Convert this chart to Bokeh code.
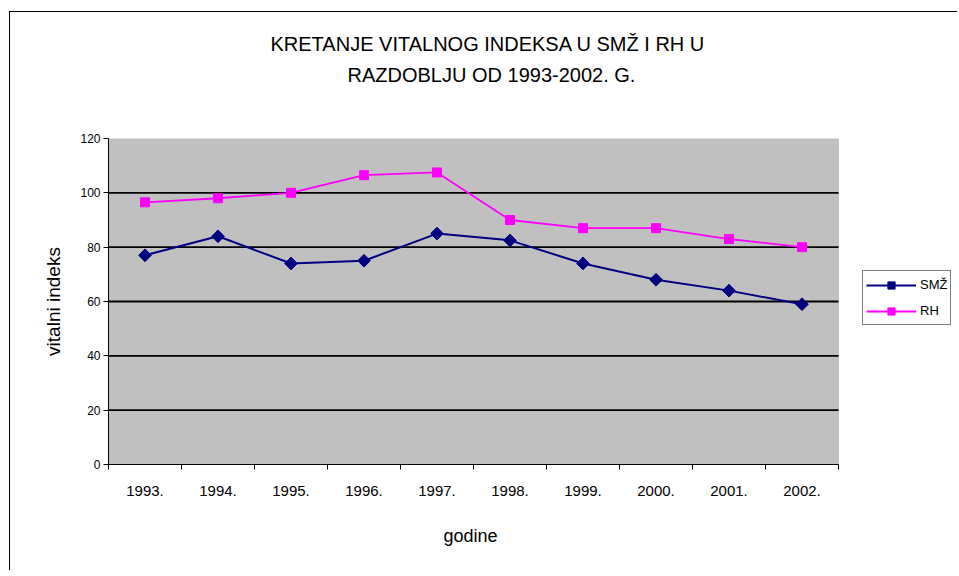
from bokeh.plotting import figure
from bokeh.models import FixedTicker, Legend, LegendItem, Title, BoxAnnotation
from bokeh.embed import file_html
from bokeh.resources import INLINE

years = ["1993.", "1994.", "1995.", "1996.", "1997.", "1998.", "1999.", "2000.", "2001.", "2002."]
smz = [77, 84, 74, 75, 85, 82.5, 74, 68, 64, 59]
rh = [96.5, 98, 100, 106.5, 107.5, 90, 87, 87, 83, 80]
y_ticks = [0, 20, 40, 60, 80, 100, 120]
title_lines = ["KRETANJE VITALNOG INDEKSA U SMŽ I RH U", "RAZDOBLJU OD 1993-2002. G."]
x_label = "godine"
y_label = "vitalni indeks"

xs = list(range(1, len(years) + 1))
FONT = "Liberation Sans"
PLOT_W, LEGEND_W, FH = 730, 119, 326          # pixel widths of plot area and legend strip
x0, x1 = 0.5, len(years) + 0.5
x_end = x1 + LEGEND_W * (x1 - x0) / PLOT_W     # frame extends right to hold the legend

p = figure(frame_width=PLOT_W + LEGEND_W, frame_height=FH, output_backend="svg",
           toolbar_location=None, x_range=(x0, x_end), y_range=(y_ticks[0], y_ticks[-1]),
           min_border_left=98, min_border_right=0, min_border_bottom=100, min_border_top=126,
           styles={"margin-left": "9px", "margin-top": "11px",
                   "border-left": "1px solid black", "border-top": "1px solid black"})

p.background_fill_color = "white"
p.border_fill_color = "white"
p.outline_line_color = None

# grey plot area
p.add_layout(BoxAnnotation(left=x0, right=x1, bottom=y_ticks[0], top=y_ticks[-1],
                           fill_color="#C0C0C0", fill_alpha=1, line_color="#808080",
                           line_width=1, level="image"))

# title: a blank spacer next to the frame, then line 2, then line 1
p.add_layout(Title(text=" ", text_font_size="1px", standoff=46), "above")
p.add_layout(Title(text=title_lines[1], align="left", offset=239, standoff=7, text_font=FONT,
                   text_font_size="20px", text_font_style="normal", text_color="black"), "above")
p.add_layout(Title(text=title_lines[0], align="left", offset=162, standoff=7, text_font=FONT,
                   text_font_size="20px", text_font_style="normal", text_color="black"), "above")

# x axis
p.xaxis.bounds = (x0, x1)
p.xaxis.ticker = FixedTicker(ticks=xs, minor_ticks=[x - 0.5 for x in xs] + [x1])
p.xaxis.major_label_overrides = {x: y for x, y in zip(xs, years)}
p.xaxis.major_tick_line_color = None
p.xaxis.minor_tick_line_color = "black"
p.xaxis.minor_tick_out = 5
p.xaxis.minor_tick_in = 0
p.xaxis.major_label_text_font = FONT
p.xaxis.major_label_text_font_size = "15px"
p.xaxis.major_label_text_color = "black"
p.xaxis.major_label_standoff = 15
p.xaxis.axis_line_color = "black"

# x axis title, centred under the plot area (not under the legend strip)
p.add_layout(Title(text=x_label, align="left", offset=335, standoff=50, text_font=FONT,
                   text_font_size="18px", text_font_style="normal", text_color="black"), "below")

# y axis
p.yaxis.ticker = FixedTicker(ticks=y_ticks, minor_ticks=[])
p.yaxis.major_tick_out = 5
p.yaxis.major_tick_in = 0
p.yaxis.major_tick_line_color = "black"
p.yaxis.major_label_text_font = FONT
p.yaxis.major_label_text_font_size = "12px"
p.yaxis.major_label_text_color = "black"
p.yaxis.major_label_standoff = 3
p.yaxis.axis_label = y_label
p.yaxis.axis_label_text_font = FONT
p.yaxis.axis_label_text_font_size = "19px"
p.yaxis.axis_label_text_font_style = "normal"
p.yaxis.axis_label_text_color = "black"
p.yaxis.axis_label_standoff = 13
p.yaxis.axis_line_color = "black"

# horizontal grid lines limited to the plot area
p.xgrid.grid_line_color = None
p.ygrid.grid_line_color = None
grid_vals = y_ticks[1:-1]
p.segment(x0=[x0] * len(grid_vals), x1=[x1] * len(grid_vals), y0=grid_vals, y1=grid_vals,
          line_color="black", line_width=1.8)

l1 = p.line(xs, smz, line_color="#000080", line_width=2)
s1 = p.scatter(xs, smz, marker="square", angle=0.785398, size=9, fill_color="#000080", line_color="#000080")
l2 = p.line(xs, rh, line_color="#FF00FF", line_width=1.8)
s2 = p.scatter(xs, rh, marker="square", size=9, fill_color="#FF00FF", line_color="#FF00FF")

legend = Legend(items=[LegendItem(label="SMŽ", renderers=[l1, s1]),
                       LegendItem(label="RH", renderers=[l2, s2])],
                location=(PLOT_W + 24, 139), label_text_font=FONT, label_text_font_size="13px",
                label_text_color="black", background_fill_color="white", background_fill_alpha=1,
                border_line_color="black", border_line_width=1.5,
                glyph_width=50, glyph_height=18, label_height=21, spacing=5,
                padding=3, margin=0, label_standoff=4)
p.add_layout(legend, "center")

open("out.html", "w").write(file_html(p, INLINE))
